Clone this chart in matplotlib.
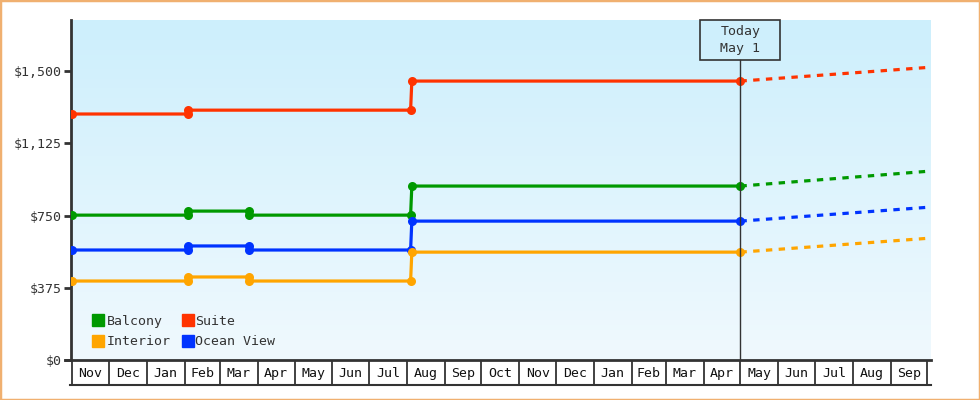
import datetime as dt
import numpy as np
import matplotlib
matplotlib.use("Agg")
import matplotlib.pyplot as plt
import matplotlib.dates as mdates
from matplotlib.lines import Line2D
from matplotlib.patches import Rectangle

# ---- data ----
d = dt.date
hist_dates = [d(2023, 11, 1), d(2024, 2, 4), d(2024, 2, 4), d(2024, 3, 25), d(2024, 3, 25),
              d(2024, 8, 4), d(2024, 8, 5), d(2025, 5, 1)]
balcony = [752, 752, 773, 773, 752, 752, 903, 903]
ocean_view = [571, 571, 592, 592, 571, 571, 721, 721]
interior = [410, 410, 431, 431, 410, 410, 560, 560]

suite_dates = [d(2023, 11, 1), d(2024, 2, 4), d(2024, 2, 4), d(2024, 8, 4), d(2024, 8, 5), d(2025, 5, 1)]
suite = [1277, 1277, 1297, 1297, 1448, 1448]

fc_dates = [d(2025, 5, 1), d(2025, 10, 4)]
fc_balcony = [903, 981]
fc_suite = [1448, 1520]
fc_ocean = [721, 794]
fc_interior = [560, 633]

today = d(2025, 5, 1)
yticks = [0, 375, 750, 1125, 1500]

colors = {"Balcony": "#009900", "Suite": "#ff3300", "Interior": "#ffa500", "Ocean View": "#0033ff"}

plt.rcParams['font.family'] = ['DejaVu Sans Mono']

fig = plt.figure(figsize=(9.8, 4.0), dpi=100)
W, H = 980, 400
x0, x1, ybot, ytop = 71, 931, 360, 20
ax = fig.add_axes([x0 / W, 1 - ybot / H, (x1 - x0) / W, (ybot - ytop) / H])

xmin = mdates.date2num(d(2023, 10, 31))
xmax = mdates.date2num(d(2025, 10, 4))
ymax = 1765
ax.set_xlim(xmin, xmax)
ax.set_ylim(0, ymax)
px_x = (xmax - xmin) / (x1 - x0)   # days per pixel
px_y = ymax / (ybot - ytop)        # dollars per pixel

# gradient background
grad = np.linspace(0, 1, 256).reshape(-1, 1)
top = np.array([0xcd, 0xef, 0xfc]) / 255
bot = np.array([0xf0, 0xf9, 0xfe]) / 255
img = top + (bot - top) * grad[:, :, None] * np.ones((1, 1, 3))
ax.imshow(img, extent=[xmin, xmax, 0, ymax], aspect='auto', zorder=0, origin='upper')

def series(dates, vals, col, ls='-', mk=True):
    xs = mdates.date2num(dates)
    ax.plot(xs, vals, color=col, lw=2.3, ls=ls, zorder=3,
            marker='o' if mk else None, ms=6.5, markeredgewidth=0, dash_capstyle='butt')

series(hist_dates, balcony, colors["Balcony"])
series(hist_dates, ocean_view, colors["Ocean View"])
series(hist_dates, interior, colors["Interior"])
series(suite_dates, suite, colors["Suite"])
for vals, name in [(fc_balcony, "Balcony"), (fc_suite, "Suite"), (fc_ocean, "Ocean View"), (fc_interior, "Interior")]:
    series(fc_dates, vals, colors[name], ls=(0, (2, 2)), mk=False)

# today line and box
tx = mdates.date2num(today)
box_h = 40 * px_y
box_w = 80 * px_x
ax.plot([tx, tx], [0, ymax - box_h], color='#333333', lw=1, zorder=4)
ax.add_patch(Rectangle((tx - box_w / 2, ymax - box_h), box_w, box_h, fill=False,
                       ec='#333333', lw=1.2, zorder=5, clip_on=False))
ax.text(tx, ymax - box_h / 2, "Today\nMay 1", ha='center', va='center', fontsize=9.5,
        color='#333333', linespacing=1.4, zorder=5)

# axes styling
for s in ['top', 'right', 'bottom']:
    ax.spines[s].set_visible(False)
ax.spines['left'].set_color('#333333')
ax.spines['left'].set_linewidth(2)
ax.set_yticks(yticks)
ax.set_yticklabels(['${:,}'.format(v) for v in yticks], fontsize=9.5, color='#333333')
ax.tick_params(axis='y', length=5, width=2, color='#333333', pad=2)
ax.set_xticks([])
ax.axhline(0, color='#333333', lw=2, zorder=6, xmin=-6 / (x1 - x0), clip_on=False)

# legend
handles = [Line2D([], [], ls='none', marker='s', ms=9, color=colors[n]) for n in
           ["Balcony", "Interior", "Suite", "Ocean View"]]
ax.legend(handles, ["Balcony", "Interior", "Suite", "Ocean View"], ncol=2, loc='lower left',
          bbox_to_anchor=(0.012, 0.0), frameon=False, fontsize=9.5, handlelength=0.8,
          handletextpad=0.2, columnspacing=0.9, labelspacing=0.55, labelcolor='#333333')

# month strip
sx = fig.add_axes([x0 / W, 1 - 385 / H, (x1 - x0) / W, 25 / H], sharex=ax)
sx.set_ylim(0, 1)
sx.set_xlim(xmin, xmax)
sx.axis('off')
months = [d(2023 + (10 + i) // 12, (10 + i) % 12 + 1, 1) for i in range(24)]
for i in range(23):
    a, b = mdates.date2num(months[i]), mdates.date2num(months[i + 1])
    sx.plot([a, a], [0, 1], color='#333333', lw=1.3)
    sx.text((a + b) / 2, 0.45, months[i].strftime('%b'), ha='center', va='center',
            fontsize=9.5, color='#111111')
sx.plot([mdates.date2num(months[23])] * 2, [0, 1], color='#333333', lw=1.3)
sx.plot([xmin - 1, xmax], [0, 0], color='#333333', lw=1.5, clip_on=False)

# outer border
fig.add_artist(Rectangle((0, 0), 1, 1, transform=fig.transFigure, fill=False,
                         ec='#f0b070', lw=2.5))

fig.savefig("out.png", dpi=100, facecolor='white')
